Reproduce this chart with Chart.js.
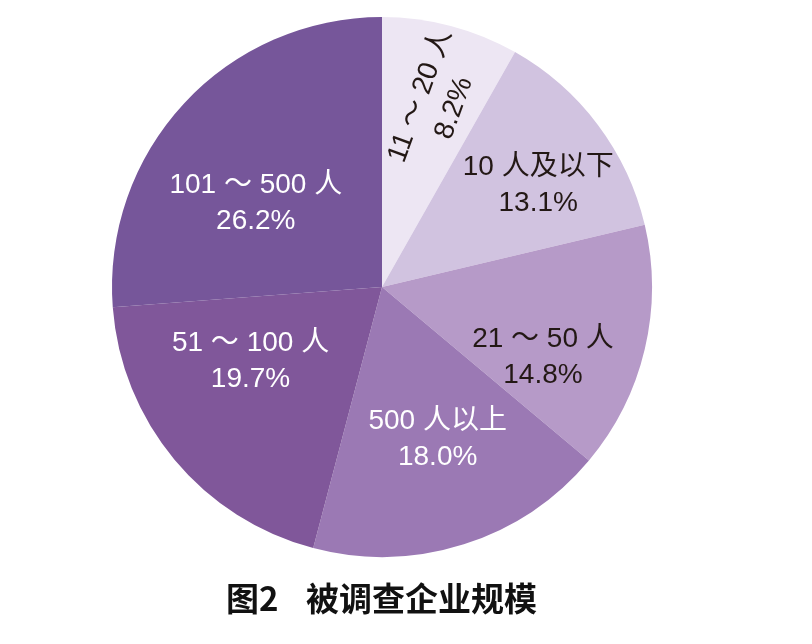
<!DOCTYPE html>
<html>
<head>
<meta charset="utf-8">
<script src="https://cdn.jsdelivr.net/npm/chart.js@4.4.0/dist/chart.umd.min.js"></script>
<style>
  html, body { margin: 0; padding: 0; background: #fff; }
  #wrap { width: 812px; height: 644px; }
</style>
</head>
<body>
<div id="wrap"><canvas id="pie" width="812" height="644"></canvas></div>
<script>
// data, clockwise from 12 o'clock
const categories = ['11 ～ 20 人', '10 人及以下', '21 ～ 50 人', '500 人以上', '51 ～ 100 人', '101 ～ 500 人'];
const shares = [8.2, 13.1, 14.8, 18.0, 19.7, 26.2];

const sliceColors = ['#ede6f3', '#d1c3e0', '#b69ac8', '#9b79b4', '#80579a', '#76569a'];
const textColors = ['#231815', '#231815', '#231815', '#ffffff', '#ffffff', '#ffffff'];
// label placement: angle (deg, 0 = 3 o'clock, clockwise), radius fraction, text rotation
const labelPlace = [
    { a: -73.4, r: 0.715, rot: -70 },
    { a: -33.0, r: 0.69, rot: 0 },
    { a: 23.5, r: 0.65, rot: 0 },
    { a: 69.9, r: 0.60, rot: 0 },
    { a: 150.4, r: 0.56, rot: 0 },
    { a: 213.4, r: 0.56, rot: 0 }
];

const labelFont = '28px "Liberation Sans", Arial, "Noto Sans CJK SC", sans-serif';

const sliceLabels = {
    id: 'sliceLabels',
    afterDatasetsDraw(chart) {
        const ctx = chart.ctx;
        const arcs = chart.getDatasetMeta(0).data;
        ctx.save();
        ctx.font = labelFont;
        ctx.textAlign = 'center';
        ctx.textBaseline = 'middle';
        arcs.forEach((arc, i) => {
            const p = labelPlace[i];
            const ang = p.a * Math.PI / 180;
            const cx = arc.x + Math.cos(ang) * arc.outerRadius * p.r;
            const cy = arc.y + Math.sin(ang) * arc.outerRadius * p.r;
            ctx.save();
            ctx.translate(cx, cy);
            ctx.rotate(p.rot * Math.PI / 180);
            ctx.fillStyle = textColors[i];
            ctx.fillText(categories[i], 0, -18);
            ctx.fillText(shares[i].toFixed(1) + '%', 0, 18);
            ctx.restore();
        });
        ctx.restore();
    }
};

const captionText = {
    id: 'captionText',
    afterDraw(chart) {
        const ctx = chart.ctx;
        ctx.save();
        ctx.fillStyle = '#111';
        ctx.font = 'bold 33px "Noto Sans CJK SC", sans-serif';
        ctx.textAlign = 'left';
        ctx.textBaseline = 'middle';
        ctx.fillText('图2', 226, 598);
        ctx.fillText('被调查企业规模', 306, 598);
        ctx.restore();
    }
};

new Chart(document.getElementById('pie'), {
    type: 'pie',
    data: {
        labels: categories,
        datasets: [{
            data: shares,
            backgroundColor: sliceColors,
            borderWidth: 0
        }]
    },
    options: {
        responsive: false,
        animation: false,
        layout: { padding: { left: 112, right: 160, top: 17, bottom: 87 } },
        plugins: {
            legend: { display: false },
            tooltip: { enabled: false }
        }
    },
    plugins: [sliceLabels, captionText]
});
</script>
</body>
</html>
